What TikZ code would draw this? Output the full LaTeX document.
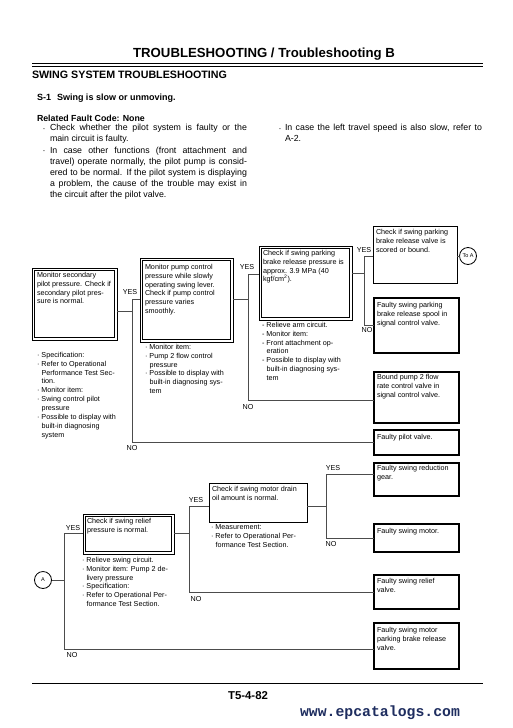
\documentclass[tikz,border=0pt]{standalone}
\usepackage{fontspec}
\setmainfont{Liberation Sans}
\setmonofont{Liberation Mono}
\definecolor{epblue}{RGB}{30,45,95}
\definecolor{lnc}{gray}{0.3}
\newcommand\bu{\makebox[4.5pt][l]{·}}
\newcommand\da{\makebox[4.5pt][l]{-}}
\newcommand\cn{\hspace*{4.5pt}}
\newcommand\dblinner[1]{\draw[line width=1.3pt] ([shift={(2.3,2.3)}]#1.north west) rectangle ([shift={(-2.3,-2.3)}]#1.south east);}
\begin{document}
\begin{tikzpicture}[x=1pt,y=-1pt,
  every node/.style={inner sep=0pt, outer sep=0pt},
  conn/.style={draw=lnc, line width=0.8pt},
  dbox/.style={draw, line width=0.7pt, rectangle},
  sbox/.style={draw, line width=0.8pt, rectangle},
  rbox/.style={draw, line width=1.8pt, rectangle, minimum width=85pt},
  txt/.style={anchor=north west, align=left, font=\fontsize{7.2}{8.9}\selectfont},
  yn/.style={font=\fontsize{7.2}{8.9}\selectfont},
  body/.style={anchor=north west, text width=197pt, align=justify, font=\fontsize{8.8}{11}\selectfont},
  circ/.style={circle, draw, line width=0.8pt, minimum size=17pt, font=\fontsize{5.5}{6}\selectfont}]
\fill[white] (0,0) rectangle (512,728);
\useasboundingbox (0,0) rectangle (512,728);

% ---------- header ----------
\node[anchor=base, font=\fontsize{13.2}{15}\selectfont\bfseries] (title) at (264,57) {TROUBLESHOOTING / Troubleshooting B};
\draw[line width=1.2pt] (32,63.3) -- (483,63.3);
\draw[line width=0.8pt] (32,66.3) -- (483,66.3);
\node[anchor=base west, font=\fontsize{10.7}{12}\selectfont\bfseries] (sec) at (32,78) {SWING SYSTEM TROUBLESHOOTING};
\node[anchor=base west, font=\fontsize{9}{11}\selectfont\bfseries] (s1) at (37,100.3) {S-1};
\node[anchor=base west, font=\fontsize{9}{11}\selectfont\bfseries] (s1t) at (57,100.3) {Swing is slow or unmoving.};
\node[anchor=base west, font=\fontsize{8.8}{11}\selectfont\bfseries] (rfc) at (37,121.3) {Related Fault Code: None};

\node[anchor=base west, font=\fontsize{8.8}{11}\selectfont] (bul1) at (42.5,131) {·};
\node[body] (p1) at (50,124.6) {\tolerance=9999 Check whether the pilot system is faulty or the\linebreak main circuit is faulty.};
\node[anchor=base west, font=\fontsize{8.8}{11}\selectfont] (bul2) at (42.5,153.4) {·};
\node[body] (p2) at (50,146.8) {\tolerance=9999 In case other functions (front attachment and\linebreak travel) operate normally, the pilot pump is consid-\linebreak ered to be normal. If the pilot system is displaying\linebreak a problem, the cause of the trouble may exist in\linebreak the circuit after the pilot valve.};
\node[anchor=base west, font=\fontsize{8.8}{11}\selectfont] (bul3) at (278.5,131) {·};
\node[body] (p3) at (285,124.6) {\tolerance=9999 In case the left travel speed is also slow, refer to\linebreak A-2.};

% ---------- upper flow ----------
\node[dbox, minimum width=85pt, minimum height=72pt] (b1) at (74.5,304) {};
\dblinner{b1}
\node[dbox, minimum width=93pt, minimum height=84pt] (b2) at (186.5,300) {};
\dblinner{b2}
\node[dbox, minimum width=93pt, minimum height=74pt] (b3) at (305.5,283) {};
\dblinner{b3}
\node[sbox, minimum width=84pt, minimum height=57pt] (b4) at (415,254.5) {};
\node[rbox, minimum height=55pt] (b5) at (416.5,325.5) {};
\node[rbox, minimum height=51pt] (b6) at (416.5,397.5) {};
\node[rbox, minimum height=25pt] (b7) at (416.5,442.5) {};
\node[circ] (toA) at (468,256) {To A};

\node[txt] (t1) at (37,272) {Monitor secondary\\pilot pressure. Check if\\secondary pilot pres-\\sure is normal.};
\node[txt] (t2) at (145,264) {Monitor pump control\\pressure while slowly\\operating swing lever.\\Check if pump control\\pressure varies\\smoothly.};
\node[txt] (t3) at (263,250) {Check if swing parking\\brake release pressure is\\approx. 3.9 MPa (40\\kgf/cm\textsuperscript{2}).};
\node[txt] (t4) at (376,229) {Check if swing parking\\brake release valve is\\scored or bound.};
\node[txt] (t5) at (377,302) {Faulty swing parking\\brake release spool in\\signal control valve.};
\node[txt] (t6) at (377,374) {Bound pump 2 flow\\rate control valve in\\signal control valve.};
\node[txt] (t7) at (377,434) {Faulty pilot valve.};

\node[txt] (n1) at (37,352) {\bu Specification:\\ \bu Refer to Operational\\ \cn Performance Test Sec-\\ \cn tion.\\ \bu Monitor item:\\ \bu Swing control pilot\\ \cn pressure\\ \bu Possible to display with\\ \cn built-in diagnosing\\ \cn system};
\node[txt] (n2) at (145,344) {\bu Monitor item:\\ \bu Pump 2 flow control\\ \cn pressure\\ \bu Possible to display with\\ \cn built-in diagnosing sys-\\ \cn tem};
\node[txt] (n3) at (262,322) {\da Relieve arm circuit.\\ \da Monitor item:\\ \da Front attachment op-\\ \cn eration\\ \da Possible to display with\\ \cn built-in diagnosing sys-\\ \cn tem};

\coordinate (j1in) at (132,311); \coordinate (j1a) at (132,299); \coordinate (j1b) at (132,442);
\coordinate (j2in) at (248,299); \coordinate (j2a) at (248,274); \coordinate (j2b) at (248,400);
\coordinate (j3in) at (364,273); \coordinate (j3a) at (364,256); \coordinate (j3b) at (364,325);

\draw[conn] (j1in -| b1.east) -- (j1in);
\draw[conn] (j1a) -- (j1b);
\draw[conn] (j1a) -- (j1a -| b2.west);
\draw[conn] (j1b) -- (j1b -| b7.west);
\draw[conn] (j2in -| b2.east) -- (j2in);
\draw[conn] (j2a) -- (j2b);
\draw[conn] (j2a) -- (j2a -| b3.west);
\draw[conn] (j2b) -- (j2b -| b6.west);
\draw[conn] (j3in -| b3.east) -- (j3in);
\draw[conn] (j3a) -- (j3b);
\draw[conn] (j3a) -- (j3a -| b4.west);
\draw[conn] (j3b) -- (j3b -| b5.west);
\draw[conn] (toA.west -| b4.east) -- (toA.west);

\node[yn] (y1) at (130,292) {YES};
\node[yn] (o1) at (132,448) {NO};
\node[yn] (y2) at (247,267) {YES};
\node[yn] (o2) at (248,407) {NO};
\node[yn] (y3) at (364,250) {YES};
\node[yn] (o3) at (367,330) {NO};

% ---------- lower flow ----------
\node[circ] (cA) at (43,580) {A};
\node[dbox, minimum width=91pt, minimum height=40pt] (b8) at (128.5,534) {};
\dblinner{b8}
\node[sbox, minimum width=98pt, minimum height=39pt] (b9) at (258,502.5) {};
\node[rbox, minimum height=33pt] (b10) at (416.5,479.5) {};
\node[rbox, minimum height=28pt] (b11) at (416.5,538) {};
\node[rbox, minimum height=34pt] (b12) at (416.5,592) {};
\node[rbox, minimum height=46pt] (b13) at (416.5,646) {};

\node[txt] (t8) at (87,518) {Check if swing relief\\pressure is normal.};
\node[txt] (t9) at (212,486) {Check if swing motor drain\\oil amount is normal.};
\node[txt] (t10) at (377,465) {Faulty swing reduction\\gear.};
\node[txt] (t11) at (377,528) {Faulty swing motor.};
\node[txt] (t12) at (377,578) {Faulty swing relief\\valve.};
\node[txt] (t13) at (377,627) {Faulty swing motor\\parking brake release\\valve.};

\node[txt] (n8) at (82,557) {\bu Relieve swing circuit.\\ \bu Monitor item: Pump 2 de-\\ \cn livery pressure\\ \bu Specification:\\ \bu Refer to Operational Per-\\ \cn formance Test Section.};
\node[txt] (n9) at (211,525) {\bu Measurement:\\ \bu Refer to Operational Per-\\ \cn formance Test Section.};

\coordinate (j4a) at (64,533); \coordinate (j4b) at (64,649);
\coordinate (j5in) at (189,533); \coordinate (j5a) at (189,506); \coordinate (j5b) at (189,592);
\coordinate (j6in) at (326,506); \coordinate (j6a) at (326,474); \coordinate (j6b) at (326,538);

\draw[conn] (cA.east) -- (cA.east -| j4a);
\draw[conn] (j4a) -- (j4b);
\draw[conn] (j4a) -- (j4a -| b8.west);
\draw[conn] (j4b) -- (j4b -| b13.west);
\draw[conn] (j5in -| b8.east) -- (j5in);
\draw[conn] (j5a) -- (j5b);
\draw[conn] (j5a) -- (j5a -| b9.west);
\draw[conn] (j5b) -- (j5b -| b12.west);
\draw[conn] (j6in -| b9.east) -- (j6in);
\draw[conn] (j6a) -- (j6b);
\draw[conn] (j6a) -- (j6a -| b10.west);
\draw[conn] (j6b) -- (j6b -| b11.west);

\node[yn] (y4) at (73,528) {YES};
\node[yn] (o4) at (72,655) {NO};
\node[yn] (y5) at (196,500) {YES};
\node[yn] (o5) at (196,599) {NO};
\node[yn] (y6) at (333,468) {YES};
\node[yn] (o6) at (331,544) {NO};

% ---------- footer ----------
\draw[line width=0.9pt] (32,683) -- (483,683);
\node[anchor=base, font=\fontsize{11.4}{13}\selectfont\bfseries] (page) at (248,699) {T5-4-82};
\node[anchor=base, font=\fontsize{14.8}{16}\selectfont\ttfamily\bfseries, text=epblue] (url) at (380,716.5) {www.epcatalogs.com};
\end{tikzpicture}
\end{document}
